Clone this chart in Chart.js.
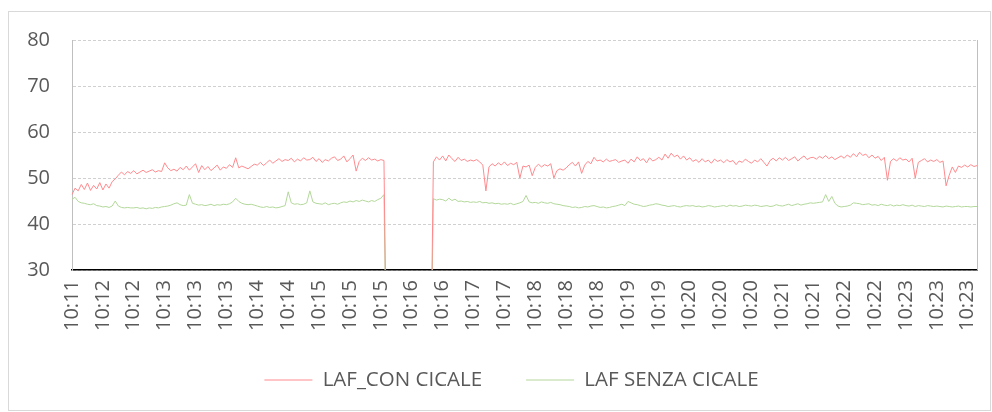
<!DOCTYPE html>
<html><head><meta charset="utf-8">
<script src="https://cdn.jsdelivr.net/npm/chart.js@4.4.0/dist/chart.umd.min.js"></script>
<style>
html,body{margin:0;padding:0;background:#fff;}
#wrap{position:relative;width:992px;height:412px;overflow:hidden;}
#frame{position:absolute;left:8px;top:11px;width:983px;height:400px;border:1px solid #d9d9d9;box-sizing:border-box;}
canvas{position:absolute;left:0;top:0;}
</style></head><body>
<div id="wrap"><div id="frame"></div><canvas id="c" width="992" height="412"></canvas></div>
<script>
const tickLabels = ['10:11','10:12','10:12','10:13','10:13','10:13','10:14','10:14','10:15','10:15','10:15','10:16','10:16','10:17','10:17','10:18','10:18','10:18','10:19','10:19','10:20','10:20','10:20','10:21','10:21','10:22','10:22','10:23','10:23','10:23'];

const conCicale = [
46.4,47.8,47.2,48.6,47.5,48.9,47.3,48.4,47.6,49.0,
47.4,48.7,47.8,49.2,49.8,50.6,51.3,50.7,51.4,51.0,
51.6,50.9,51.3,51.7,51.2,51.5,51.8,51.3,51.6,51.4,
53.3,52.2,51.6,51.9,51.5,52.3,51.8,52.6,51.7,52.4,
53.1,51.2,52.7,51.8,52.5,51.6,52.2,52.8,51.7,52.4,
52.1,52.9,52.3,54.4,52.2,52.6,52.3,52.0,52.5,53.0,
52.8,53.4,52.7,53.3,53.9,53.2,53.7,54.2,53.6,54.0,
53.8,54.3,53.5,54.1,53.7,54.4,53.9,54.0,54.5,53.6,
54.2,53.4,54.0,53.7,54.3,54.6,53.8,54.1,54.8,53.5,
54.2,55.0,51.5,53.6,54.3,53.8,54.4,53.9,54.1,53.7,
54.0,53.8,0,0,0,0,0,0,0,0,
0,0,0,0,0,0,0,53.5,54.6,53.9,
54.8,53.7,55.0,54.2,53.6,54.5,53.8,54.1,53.6,53.9,
53.7,54.0,53.5,52.8,47.2,52.4,53.1,52.6,53.3,52.8,
53.5,52.7,53.2,52.9,53.4,50.0,52.6,52.4,52.8,50.5,
52.3,53.0,52.4,52.9,52.6,53.1,50.0,51.6,52.0,51.7,
52.2,52.9,53.4,52.6,53.5,51.0,52.8,53.6,53.1,54.5,
53.7,53.9,53.5,54.1,53.6,53.8,54.0,53.4,53.7,53.9,
53.2,54.1,53.5,54.6,53.8,54.2,53.3,54.4,53.7,54.0,
54.5,53.9,55.2,54.3,55.4,54.6,55.0,54.1,54.8,53.9,
54.4,53.6,54.0,53.4,54.2,53.5,53.9,53.2,54.1,53.6,
53.9,53.3,54.0,53.5,53.8,52.9,53.7,53.4,54.1,53.6,
53.2,53.9,53.5,54.2,53.4,52.6,53.8,54.3,53.7,54.4,
53.9,54.5,53.8,54.2,54.6,53.7,54.3,54.8,54.0,54.4,
54.5,54.1,54.7,54.3,54.9,54.2,54.6,54.0,54.4,54.8,
54.3,55.0,54.5,55.3,54.6,55.6,54.9,55.2,54.4,55.0,
54.3,54.7,53.8,54.5,49.5,53.6,54.2,53.7,54.4,53.9,
54.1,53.5,54.3,50.0,53.4,53.8,54.2,53.5,53.9,53.6,
54.0,53.4,53.7,48.3,50.6,52.4,51.2,52.6,52.3,52.8,
52.4,52.9,52.5,52.7
];

const senzaCicale = [
45.4,45.8,44.9,44.6,44.5,44.3,44.2,44.4,44.0,43.9,
43.7,43.8,43.6,43.9,45.0,43.9,43.6,43.5,43.6,43.5,
43.5,43.6,43.4,43.5,43.3,43.5,43.4,43.6,43.5,43.7,
43.8,43.9,44.1,44.4,44.6,44.2,44.0,44.1,46.4,44.5,
44.3,44.1,44.2,44.0,44.1,44.3,44.0,44.2,44.1,44.3,
44.2,44.4,44.8,45.6,44.9,44.5,44.3,44.2,44.3,44.1,
43.9,43.7,43.6,43.8,43.6,43.7,43.5,43.6,43.8,44.0,
47.0,44.6,44.3,44.4,44.2,44.3,44.6,47.2,44.8,44.5,
44.4,44.3,44.6,44.2,44.4,44.5,44.3,44.6,44.8,44.7,
45.0,44.8,45.1,44.9,45.2,45.0,44.8,45.1,44.9,45.3,
45.6,46.4,0,0,0,0,0,0,0,0,
0,0,0,0,0,0,0,45.5,45.2,45.4,
45.3,45.0,45.6,45.1,45.4,44.9,45.0,44.8,44.9,44.7,
44.8,44.7,44.9,44.6,44.7,44.5,44.6,44.4,44.5,44.3,
44.4,44.3,44.5,44.2,44.4,44.6,44.9,46.2,44.8,44.6,
44.7,44.5,44.8,44.6,44.5,44.7,44.4,44.3,44.2,44.0,
43.9,43.8,43.6,43.7,43.5,43.6,43.8,43.7,43.9,44.0,
43.8,43.6,43.7,43.5,43.6,43.8,43.9,44.1,44.3,44.0,
44.9,44.6,44.3,44.2,44.0,43.8,43.9,44.1,44.2,44.4,
44.3,44.1,44.0,43.8,43.9,44.0,43.8,43.7,43.9,44.0,
43.9,44.0,43.8,43.9,43.7,43.8,44.0,43.9,43.7,43.8,
43.9,44.0,43.8,44.1,43.9,44.0,43.8,43.9,44.1,44.0,
43.9,44.1,44.0,43.8,43.9,44.0,43.8,43.9,44.2,44.0,
43.9,44.1,44.3,44.0,44.2,44.4,44.1,44.3,44.4,44.6,
44.5,44.6,44.7,44.8,46.4,44.9,46.0,44.5,43.9,43.7,
43.8,43.9,44.1,44.6,44.5,44.4,44.2,44.3,44.4,44.1,
44.2,44.0,44.3,44.1,44.0,44.2,43.9,44.1,44.0,44.2,
44.0,43.9,44.1,43.8,44.0,43.9,43.8,44.0,43.9,43.8,
43.9,43.8,43.7,43.9,43.8,43.7,43.8,43.9,43.7,43.8,
43.8,43.7,43.8,43.8
];

const yTicks = [30, 40, 50, 60, 70, 80];
const labelEvery = 10;

const categories = conCicale.map((v, i) => (i % labelEvery === 0 ? tickLabels[i / labelEvery] : ''));

const FONT = '"Open Sans", "Noto Sans", sans-serif';
const TXT = '#595959';

const plotBorder = {
  id: 'plotBorder',
  afterLayout(chart) {
    Object.values(chart.scales).forEach(s => { s._computeLabelArea = () => undefined; });
  },
  beforeDatasetsDraw(chart) {
    const { ctx, chartArea: a } = chart;
    ctx.save();
    ctx.strokeStyle = '#bfbfbf';
    ctx.lineWidth = 1;
    ctx.beginPath();
    ctx.moveTo(Math.round(a.right) + 0.5, a.top);
    ctx.lineTo(Math.round(a.right) + 0.5, a.bottom);
    ctx.stroke();
    ctx.restore();
  }
};

new Chart(document.getElementById('c'), {
  type: 'line',
  data: {
    labels: categories,
    datasets: [
      { label: 'LAF_CON CICALE', data: conCicale, borderColor: '#ff8a8e', backgroundColor: '#ff8a8e', borderWidth: 1, pointRadius: 0, tension: 0, fill: false },
      { label: 'LAF SENZA CICALE', data: senzaCicale, borderColor: '#b3d89a', backgroundColor: '#b3d89a', borderWidth: 1, pointRadius: 0, tension: 0, fill: false }
    ]
  },
  options: {
    responsive: false,
    animation: false,
    devicePixelRatio: 1,
    layout: { padding: { left: 46, right: 15, top: 40, bottom: 11.75 } },
    plugins: {
      tooltip: { enabled: false },
      legend: {
        position: 'bottom',
        labels: {
          usePointStyle: true,
          pointStyle: 'line',
          pointStyleWidth: 48,
          padding: 44,
          color: TXT,
          font: { family: FONT, size: 20.5 }
        }
      }
    },
    scales: {
      x: {
        type: 'category',
        offset: false,
        grid: { display: false, drawTicks: false },
        border: { display: true, color: '#000000', width: 1.5 },
        ticks: {
          autoSkip: false,
          minRotation: 90,
          maxRotation: 90,
          padding: 10,
          color: TXT,
          font: { family: FONT, size: 20 }
        },
        afterFit(scale) {
          scale.height = 55.75;
          scale.paddingLeft = 0;
          scale.paddingRight = 0;
        }
      },
      y: {
        min: yTicks[0],
        max: yTicks[yTicks.length - 1],
        afterBuildTicks(scale) { scale.ticks = yTicks.map(v => ({ value: v })); },
        grid: { color: '#d0d0d0', drawTicks: false, lineWidth: 1 },
        border: { display: true, color: '#bfbfbf', width: 1, dash: [3, 2] },
        ticks: {
          padding: 22,
          color: TXT,
          font: { family: FONT, size: 20 }
        },
        afterFit(scale) {
          scale.width = 26;
          scale.paddingTop = 0;
          scale.paddingBottom = 0;
        }
      }
    }
  },
  plugins: [plotBorder]
});
</script>
</body></html>
